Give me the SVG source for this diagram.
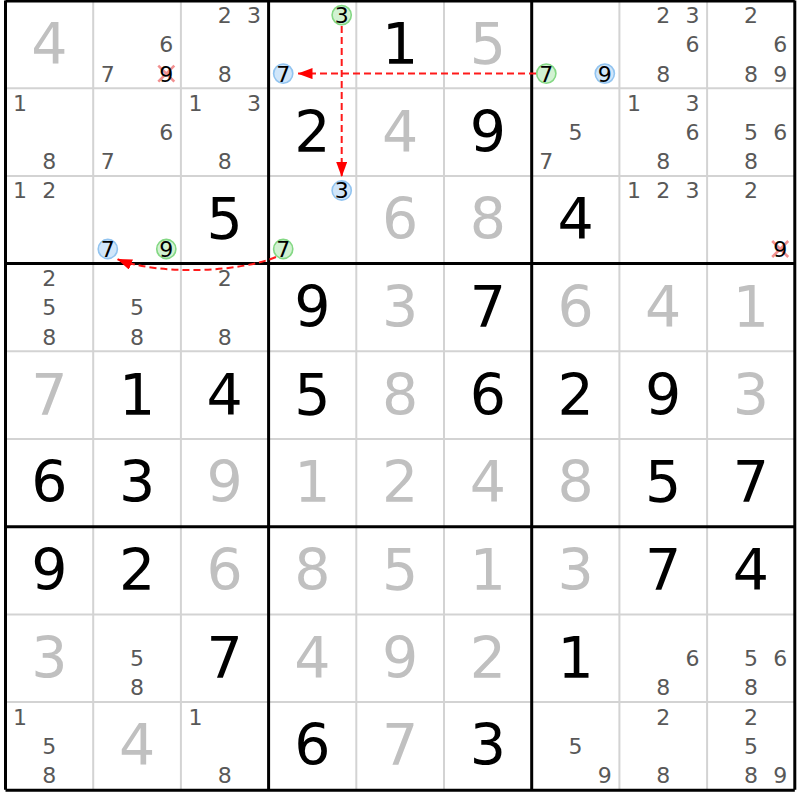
<svg xmlns="http://www.w3.org/2000/svg" width="800" height="800" viewBox="0 0 800 800">
<style>
text{font-family:"DejaVu Sans","Liberation Sans",sans-serif;text-anchor:middle}
.c{font-size:22px;fill:#585858}
.h{font-size:22px;fill:#000}
.g{font-size:57px;fill:#c0c0c0}
.b{font-size:57px;fill:#000}
.cg{fill:#d2f2d2;stroke:#84d884;stroke-width:1.6}
.cb{fill:#d0e6fa;stroke:#92c4f0;stroke-width:1.6}
.x{stroke:#f29090;stroke-width:2.6;fill:none}
.thin{stroke:#d3d3d3;stroke-width:2}
.thick{stroke:#000;stroke-width:3}
.lk{stroke:#ff1a1a;stroke-width:2;stroke-dasharray:7 4;fill:none}
</style>
<defs>
<marker id="ah" markerUnits="userSpaceOnUse" markerWidth="15" markerHeight="11" refX="15" refY="5.5" orient="auto">
<path d="M0,0 L15,5.5 L0,11 z" fill="#ff0000"/>
</marker>
</defs>
<rect x="0" y="0" width="800" height="800" fill="#fff"/>
<g id="grid">
<path class="thin" d="M93.2,0.5V789.8M180.9,0.5V789.8M356.3,0.5V789.8M444,0.5V789.8M619.4,0.5V789.8M707.1,0.5V789.8M5.5,88.2H794.8M5.5,175.9H794.8M5.5,351.3H794.8M5.5,439H794.8M5.5,614.4H794.8M5.5,702.1H794.8"/>
<path class="thick" d="M5.5,0.5V789.8M268.6,0.5V789.8M531.7,0.5V789.8M794.8,0.5V789.8M5.5,1H794.8M5.5,263.6H794.8M5.5,526.7H794.8M5.5,790.3H794.8"/>
</g>
<!-- row 1 -->
<g id="r1c1" transform="translate(5.5,0.5)"><text class="g" x="43.85" y="63.35">4</text></g>
<g id="r1c2" transform="translate(93.2,0.5)"><text class="c" x="73.1" y="51.85">6</text><text class="c" x="14.6" y="81.1">7</text><path class="x" d="M65.1,65.1L81.1,81.1M81.1,65.1L65.1,81.1"/><text class="h" x="73.1" y="81.1">9</text></g>
<g id="r1c3" transform="translate(180.9,0.5)"><text class="c" x="43.85" y="22.6">2</text><text class="c" x="73.1" y="22.6">3</text><text class="c" x="43.85" y="81.1">8</text></g>
<g id="r1c4" transform="translate(268.6,0.5)"><circle class="cg" cx="73.1" cy="14.6" r="9.6"/><text class="h" x="73.1" y="22.6">3</text><circle class="cb" cx="14.6" cy="73.1" r="9.6"/><text class="h" x="14.6" y="81.1">7</text></g>
<g id="r1c5" transform="translate(356.3,0.5)"><text class="b" x="43.85" y="63.35">1</text></g>
<g id="r1c6" transform="translate(444,0.5)"><text class="g" x="43.85" y="63.35">5</text></g>
<g id="r1c7" transform="translate(531.7,0.5)"><circle class="cg" cx="14.6" cy="73.1" r="9.6"/><text class="h" x="14.6" y="81.1">7</text><circle class="cb" cx="73.1" cy="73.1" r="9.6"/><text class="h" x="73.1" y="81.1">9</text></g>
<g id="r1c8" transform="translate(619.4,0.5)"><text class="c" x="43.85" y="22.6">2</text><text class="c" x="73.1" y="22.6">3</text><text class="c" x="73.1" y="51.85">6</text><text class="c" x="43.85" y="81.1">8</text></g>
<g id="r1c9" transform="translate(707.1,0.5)"><text class="c" x="43.85" y="22.6">2</text><text class="c" x="73.1" y="51.85">6</text><text class="c" x="43.85" y="81.1">8</text><text class="c" x="73.1" y="81.1">9</text></g>
<!-- row 2 -->
<g id="r2c1" transform="translate(5.5,88.2)"><text class="c" x="14.6" y="22.6">1</text><text class="c" x="43.85" y="81.1">8</text></g>
<g id="r2c2" transform="translate(93.2,88.2)"><text class="c" x="73.1" y="51.85">6</text><text class="c" x="14.6" y="81.1">7</text></g>
<g id="r2c3" transform="translate(180.9,88.2)"><text class="c" x="14.6" y="22.6">1</text><text class="c" x="73.1" y="22.6">3</text><text class="c" x="43.85" y="81.1">8</text></g>
<g id="r2c4" transform="translate(268.6,88.2)"><text class="b" x="43.85" y="63.35">2</text></g>
<g id="r2c5" transform="translate(356.3,88.2)"><text class="g" x="43.85" y="63.35">4</text></g>
<g id="r2c6" transform="translate(444,88.2)"><text class="b" x="43.85" y="63.35">9</text></g>
<g id="r2c7" transform="translate(531.7,88.2)"><text class="c" x="43.85" y="51.85">5</text><text class="c" x="14.6" y="81.1">7</text></g>
<g id="r2c8" transform="translate(619.4,88.2)"><text class="c" x="14.6" y="22.6">1</text><text class="c" x="73.1" y="22.6">3</text><text class="c" x="73.1" y="51.85">6</text><text class="c" x="43.85" y="81.1">8</text></g>
<g id="r2c9" transform="translate(707.1,88.2)"><text class="c" x="43.85" y="51.85">5</text><text class="c" x="73.1" y="51.85">6</text><text class="c" x="43.85" y="81.1">8</text></g>
<!-- row 3 -->
<g id="r3c1" transform="translate(5.5,175.9)"><text class="c" x="14.6" y="22.6">1</text><text class="c" x="43.85" y="22.6">2</text></g>
<g id="r3c2" transform="translate(93.2,175.9)"><circle class="cb" cx="14.6" cy="73.1" r="9.6"/><text class="h" x="14.6" y="81.1">7</text><circle class="cg" cx="73.1" cy="73.1" r="9.6"/><text class="h" x="73.1" y="81.1">9</text></g>
<g id="r3c3" transform="translate(180.9,175.9)"><text class="b" x="43.85" y="63.35">5</text></g>
<g id="r3c4" transform="translate(268.6,175.9)"><circle class="cb" cx="73.1" cy="14.6" r="9.6"/><text class="h" x="73.1" y="22.6">3</text><circle class="cg" cx="14.6" cy="73.1" r="9.6"/><text class="h" x="14.6" y="81.1">7</text></g>
<g id="r3c5" transform="translate(356.3,175.9)"><text class="g" x="43.85" y="63.35">6</text></g>
<g id="r3c6" transform="translate(444,175.9)"><text class="g" x="43.85" y="63.35">8</text></g>
<g id="r3c7" transform="translate(531.7,175.9)"><text class="b" x="43.85" y="63.35">4</text></g>
<g id="r3c8" transform="translate(619.4,175.9)"><text class="c" x="14.6" y="22.6">1</text><text class="c" x="43.85" y="22.6">2</text><text class="c" x="73.1" y="22.6">3</text></g>
<g id="r3c9" transform="translate(707.1,175.9)"><text class="c" x="43.85" y="22.6">2</text><path class="x" d="M65.1,65.1L81.1,81.1M81.1,65.1L65.1,81.1"/><text class="h" x="73.1" y="81.1">9</text></g>
<!-- row 4 -->
<g id="r4c1" transform="translate(5.5,263.6)"><text class="c" x="43.85" y="22.6">2</text><text class="c" x="43.85" y="51.85">5</text><text class="c" x="43.85" y="81.1">8</text></g>
<g id="r4c2" transform="translate(93.2,263.6)"><text class="c" x="43.85" y="51.85">5</text><text class="c" x="43.85" y="81.1">8</text></g>
<g id="r4c3" transform="translate(180.9,263.6)"><text class="c" x="43.85" y="22.6">2</text><text class="c" x="43.85" y="81.1">8</text></g>
<g id="r4c4" transform="translate(268.6,263.6)"><text class="b" x="43.85" y="63.35">9</text></g>
<g id="r4c5" transform="translate(356.3,263.6)"><text class="g" x="43.85" y="63.35">3</text></g>
<g id="r4c6" transform="translate(444,263.6)"><text class="b" x="43.85" y="63.35">7</text></g>
<g id="r4c7" transform="translate(531.7,263.6)"><text class="g" x="43.85" y="63.35">6</text></g>
<g id="r4c8" transform="translate(619.4,263.6)"><text class="g" x="43.85" y="63.35">4</text></g>
<g id="r4c9" transform="translate(707.1,263.6)"><text class="g" x="43.85" y="63.35">1</text></g>
<!-- row 5 -->
<g id="r5c1" transform="translate(5.5,351.3)"><text class="g" x="43.85" y="63.35">7</text></g>
<g id="r5c2" transform="translate(93.2,351.3)"><text class="b" x="43.85" y="63.35">1</text></g>
<g id="r5c3" transform="translate(180.9,351.3)"><text class="b" x="43.85" y="63.35">4</text></g>
<g id="r5c4" transform="translate(268.6,351.3)"><text class="b" x="43.85" y="63.35">5</text></g>
<g id="r5c5" transform="translate(356.3,351.3)"><text class="g" x="43.85" y="63.35">8</text></g>
<g id="r5c6" transform="translate(444,351.3)"><text class="b" x="43.85" y="63.35">6</text></g>
<g id="r5c7" transform="translate(531.7,351.3)"><text class="b" x="43.85" y="63.35">2</text></g>
<g id="r5c8" transform="translate(619.4,351.3)"><text class="b" x="43.85" y="63.35">9</text></g>
<g id="r5c9" transform="translate(707.1,351.3)"><text class="g" x="43.85" y="63.35">3</text></g>
<!-- row 6 -->
<g id="r6c1" transform="translate(5.5,439)"><text class="b" x="43.85" y="63.35">6</text></g>
<g id="r6c2" transform="translate(93.2,439)"><text class="b" x="43.85" y="63.35">3</text></g>
<g id="r6c3" transform="translate(180.9,439)"><text class="g" x="43.85" y="63.35">9</text></g>
<g id="r6c4" transform="translate(268.6,439)"><text class="g" x="43.85" y="63.35">1</text></g>
<g id="r6c5" transform="translate(356.3,439)"><text class="g" x="43.85" y="63.35">2</text></g>
<g id="r6c6" transform="translate(444,439)"><text class="g" x="43.85" y="63.35">4</text></g>
<g id="r6c7" transform="translate(531.7,439)"><text class="g" x="43.85" y="63.35">8</text></g>
<g id="r6c8" transform="translate(619.4,439)"><text class="b" x="43.85" y="63.35">5</text></g>
<g id="r6c9" transform="translate(707.1,439)"><text class="b" x="43.85" y="63.35">7</text></g>
<!-- row 7 -->
<g id="r7c1" transform="translate(5.5,526.7)"><text class="b" x="43.85" y="63.35">9</text></g>
<g id="r7c2" transform="translate(93.2,526.7)"><text class="b" x="43.85" y="63.35">2</text></g>
<g id="r7c3" transform="translate(180.9,526.7)"><text class="g" x="43.85" y="63.35">6</text></g>
<g id="r7c4" transform="translate(268.6,526.7)"><text class="g" x="43.85" y="63.35">8</text></g>
<g id="r7c5" transform="translate(356.3,526.7)"><text class="g" x="43.85" y="63.35">5</text></g>
<g id="r7c6" transform="translate(444,526.7)"><text class="g" x="43.85" y="63.35">1</text></g>
<g id="r7c7" transform="translate(531.7,526.7)"><text class="g" x="43.85" y="63.35">3</text></g>
<g id="r7c8" transform="translate(619.4,526.7)"><text class="b" x="43.85" y="63.35">7</text></g>
<g id="r7c9" transform="translate(707.1,526.7)"><text class="b" x="43.85" y="63.35">4</text></g>
<!-- row 8 -->
<g id="r8c1" transform="translate(5.5,614.4)"><text class="g" x="43.85" y="63.35">3</text></g>
<g id="r8c2" transform="translate(93.2,614.4)"><text class="c" x="43.85" y="51.85">5</text><text class="c" x="43.85" y="81.1">8</text></g>
<g id="r8c3" transform="translate(180.9,614.4)"><text class="b" x="43.85" y="63.35">7</text></g>
<g id="r8c4" transform="translate(268.6,614.4)"><text class="g" x="43.85" y="63.35">4</text></g>
<g id="r8c5" transform="translate(356.3,614.4)"><text class="g" x="43.85" y="63.35">9</text></g>
<g id="r8c6" transform="translate(444,614.4)"><text class="g" x="43.85" y="63.35">2</text></g>
<g id="r8c7" transform="translate(531.7,614.4)"><text class="b" x="43.85" y="63.35">1</text></g>
<g id="r8c8" transform="translate(619.4,614.4)"><text class="c" x="73.1" y="51.85">6</text><text class="c" x="43.85" y="81.1">8</text></g>
<g id="r8c9" transform="translate(707.1,614.4)"><text class="c" x="43.85" y="51.85">5</text><text class="c" x="73.1" y="51.85">6</text><text class="c" x="43.85" y="81.1">8</text></g>
<!-- row 9 -->
<g id="r9c1" transform="translate(5.5,702.1)"><text class="c" x="14.6" y="22.6">1</text><text class="c" x="43.85" y="51.85">5</text><text class="c" x="43.85" y="81.1">8</text></g>
<g id="r9c2" transform="translate(93.2,702.1)"><text class="g" x="43.85" y="63.35">4</text></g>
<g id="r9c3" transform="translate(180.9,702.1)"><text class="c" x="14.6" y="22.6">1</text><text class="c" x="43.85" y="81.1">8</text></g>
<g id="r9c4" transform="translate(268.6,702.1)"><text class="b" x="43.85" y="63.35">6</text></g>
<g id="r9c5" transform="translate(356.3,702.1)"><text class="g" x="43.85" y="63.35">7</text></g>
<g id="r9c6" transform="translate(444,702.1)"><text class="b" x="43.85" y="63.35">3</text></g>
<g id="r9c7" transform="translate(531.7,702.1)"><text class="c" x="43.85" y="51.85">5</text><text class="c" x="73.1" y="81.1">9</text></g>
<g id="r9c8" transform="translate(619.4,702.1)"><text class="c" x="43.85" y="22.6">2</text><text class="c" x="43.85" y="81.1">8</text></g>
<g id="r9c9" transform="translate(707.1,702.1)"><text class="c" x="43.85" y="22.6">2</text><text class="c" x="43.85" y="51.85">5</text><text class="c" x="43.85" y="81.1">8</text><text class="c" x="73.1" y="81.1">9</text></g>
<g id="connectors">
<path class="lk" d="M341.7,26 L341.7,177" marker-end="url(#ah)"/>
<path class="lk" d="M536,73.6 L297.5,73.6" marker-end="url(#ah)"/>
<path class="lk" d="M276,257 C240,272 160,276 117,259" marker-end="url(#ah)"/>
</g>
</svg>
